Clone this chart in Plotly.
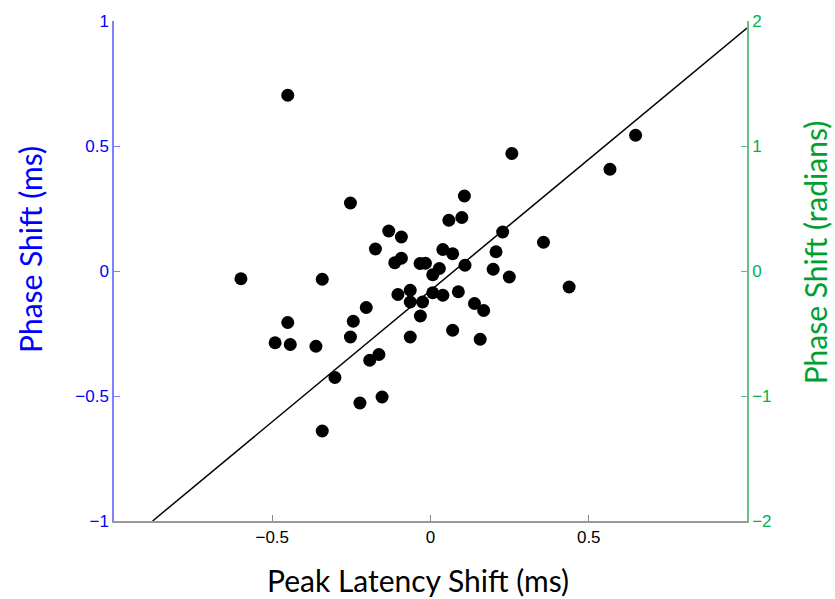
import plotly.graph_objects as go

# Peak latency shift (ms) vs phase shift (ms)
latency_shift = [-0.451, -0.253, -0.132, -0.092, -0.174, -0.113, -0.092, -0.033, -0.016, 0.007,
                 0.028, 0.109, 0.198, 0.249, 0.107, 0.058, 0.099, 0.228, 0.207, 0.039,
                 0.070, 0.257, 0.357, 0.438, 0.567, 0.648, -0.103, -0.064, -0.064, -0.025,
                 0.007, 0.039, 0.088, 0.139, 0.168, -0.032, -0.064, 0.070, 0.157, -0.599,
                 -0.342, -0.451, -0.491, -0.443, -0.362, -0.244, -0.203, -0.253, -0.192, -0.163,
                 -0.302, -0.223, -0.153, -0.342]
phase_shift = [0.703, 0.272, 0.160, 0.136, 0.088, 0.033, 0.051, 0.030, 0.031, -0.015,
               0.010, 0.023, 0.007, -0.024, 0.300, 0.203, 0.214, 0.156, 0.077, 0.086,
               0.069, 0.470, 0.115, -0.064, 0.407, 0.543, -0.094, -0.077, -0.124, -0.124,
               -0.087, -0.097, -0.083, -0.130, -0.158, -0.180, -0.264, -0.237, -0.273, -0.031,
               -0.033, -0.206, -0.287, -0.294, -0.301, -0.201, -0.146, -0.264, -0.357, -0.334,
               -0.426, -0.528, -0.504, -0.640]

# fitted line
fit_slope = 1.05
fit_intercept = -0.078
fit_x = [-0.878, 1.0]
fit_y = [fit_intercept + fit_slope * v for v in fit_x]

x_ticks = [-0.5, 0, 0.5]
x_ticktext = ["\u22120.5", "0", "0.5"]
y_ticks = [-1, -0.5, 0, 0.5, 1]
y_ticktext = ["\u22121", "\u22120.5", "0", "0.5", "1"]
y2_ticks = [-2, -1, 0, 1, 2]
y2_ticktext = ["\u22122", "\u22121", "0", "1", "2"]

BLUE = "#0000ff"
GREEN_T = "#00b050"
GREEN_TITLE = "#00a030"

fig = go.Figure()
fig.add_trace(go.Scatter(x=fit_x, y=fit_y, mode="lines",
                         line=dict(color="black", width=1.5), showlegend=False,
                         hoverinfo="skip"))
fig.add_trace(go.Scatter(x=latency_shift, y=phase_shift, mode="markers",
                         marker=dict(color="black", size=13), showlegend=False))
# invisible trace to activate the right axis
fig.add_trace(go.Scatter(x=[0], y=[0], yaxis="y2", mode="markers",
                         marker=dict(opacity=0), showlegend=False, hoverinfo="skip"))

tickfont = dict(family="Liberation Sans, Arial, sans-serif", size=17)

fig.update_layout(
    width=835, height=599,
    margin=dict(l=114, r=88, t=21, b=78),
    paper_bgcolor="white", plot_bgcolor="white",
    xaxis=dict(range=[-1, 1], tickvals=x_ticks, ticktext=x_ticktext,
               ticks="inside", ticklen=6, tickcolor="#888888",
               showline=True, linecolor="#999999", linewidth=1.5,
               showgrid=False, zeroline=False,
               tickfont=dict(tickfont, color="black")),
    yaxis=dict(range=[-1, 1], tickvals=y_ticks, ticktext=y_ticktext,
               ticks="inside", ticklen=6, tickcolor="#8080ff",
               showline=True, linecolor="#8080ff", linewidth=1.5,
               showgrid=False, zeroline=False,
               tickfont=dict(tickfont, color=BLUE)),
    yaxis2=dict(range=[-2, 2], tickvals=y2_ticks, ticktext=y2_ticktext,
                overlaying="y", side="right",
                ticks="inside", ticklen=6, tickcolor="#55bb77",
                showline=True, linecolor="#66c088", linewidth=1.5,
                showgrid=False, zeroline=False,
                tickfont=dict(tickfont, color=GREEN_T)),
    annotations=[
        dict(text="Peak Latency Shift (ms)", xref="paper", yref="paper",
             x=0.481, y=-0.118, xanchor="center", yanchor="middle", borderpad=0,
             showarrow=False, font=dict(family="Lato", size=30, color="black")),
        dict(text="Phase Shift (ms)", xref="paper", yref="paper",
             x=-0.1327, y=0.542, xanchor="center", yanchor="middle", textangle=-90,
             borderpad=0,
             showarrow=False, font=dict(family="Lato", size=30, color=BLUE)),
        dict(text="Phase Shift (radians)", xref="paper", yref="paper",
             x=1.108, y=0.538, xanchor="center", yanchor="middle", textangle=-90,
             borderpad=0,
             showarrow=False, font=dict(family="Lato", size=30, color=GREEN_TITLE)),
    ],
)

fig.write_html("out.html")
